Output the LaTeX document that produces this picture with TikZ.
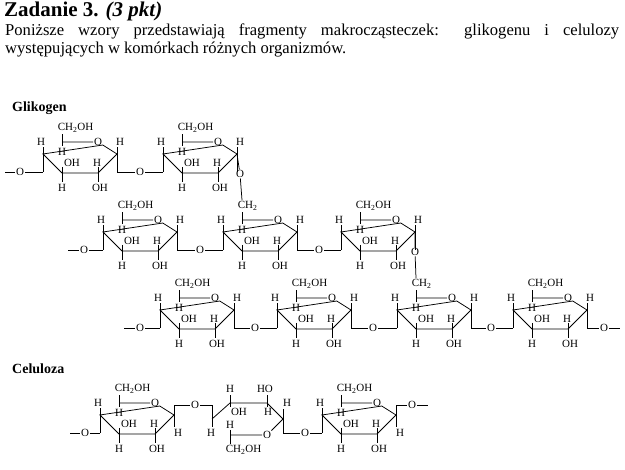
\documentclass[tikz,border=0pt]{standalone}
\usepackage{fontspec}
\setmainfont{Liberation Serif}
\newcommand\chemfont{\fontsize{11}{11}\selectfont}
\tikzset{x=1pt,y=-1pt,
 bond/.style={line width=0.75pt},
 lab/.style={font=\chemfont,inner sep=0.6pt},
 ttl/.style={font=\bfseries\fontsize{14}{14}\selectfont,anchor=west,inner sep=0pt}}
% #1 x, #2 y(top), #3 top label, #4 name, #5 mode (a=alpha, b=beta)
\newcommand\gluc[5]{%
\begin{scope}[shift={(#1,#2)}]
 \node[lab] (#4O) at (55,0) {O};
 \draw[bond] (19,0)--(#4O)--(74,12)--(55,31)--(19,31)--(0,12)--cycle;
 \draw[bond] (19,0)--(19,-8) (19,0)--(19,4);
 \node[lab,anchor=west] (#4t) at (14,-14) {#3};
 \coordinate (#4tt) at (19,-20);
 \node[lab] at (19,9.5) {H};
 \draw[bond] (0,12)--(0,5) (0,12)--(0,30);
 \node[lab] at (-2,0) {H};
 \draw[bond] (19,25)--(19,40); \node[lab] at (29,21) {OH}; \node[lab] at (19,46) {H};
 \draw[bond] (55,25)--(55,40); \node[lab] at (54,20.5) {H}; \node[lab] at (57,46) {OH};
 \coordinate (#4L) at (0,30);
 \coordinate (#4C) at (74,12);
 \if#5a
  \draw[bond] (74,12)--(74,5) (74,12)--(74,30); \node[lab] at (77,0) {H};
  \coordinate (#4R) at (74,30);
 \else
  \draw[bond] (74,12)--(74,2) (74,12)--(74,24); \node[lab] at (78,30) {H};
  \coordinate (#4R) at (74,2);
 \fi
\end{scope}}
\begin{document}
\begin{tikzpicture}
\useasboundingbox (0,0) rectangle (625,470);
\node[anchor=north west,inner sep=0pt,font=\bfseries\fontsize{21}{21}\selectfont] (title) at (4,2) {Zadanie 3. \textit{(3 pkt)}};
\node[anchor=north west,inner sep=0pt,text width=614pt,align=justify,font=\fontsize{16.6}{18}\selectfont] (intro) at (5,24)
 {Poniższe wzory przedstawiają fragmenty makrocząsteczek: glikogenu i celulozy\linebreak występujących w komórkach różnych organizmów.};
\node[ttl] (gl) at (12,108) {Glikogen};
\node[ttl] (ce) at (12,369) {Celuloza};
% Row 1
\gluc{43}{142}{CH\textsubscript{2}OH}{a1}{a}
\gluc{163}{142}{CH\textsubscript{2}OH}{a2}{a}
\coordinate (s1) at (5,172);
\node[lab] (o0) at (20,172) {O};
\node[lab] (o1) at (140,172) {O};
\draw[bond] (s1)--(o0)--(a1L) (a1R)--(o1)--(a2L);
% Row 2
\gluc{103}{220}{CH\textsubscript{2}OH}{b1}{a}
\gluc{223}{220}{CH\textsubscript{2}}{b2}{a}
\gluc{341}{220}{CH\textsubscript{2}OH}{b3}{a}
\node[lab] (ob) at (240,174) {O};
\draw[bond] (a2C)--(ob)--(b2tt);
\coordinate (s2) at (68,250);
\node[lab] (p0) at (84,250) {O};
\node[lab] (p1) at (200,250) {O};
\node[lab] (p2) at (319,250) {O};
\draw[bond] (s2)--(p0)--(b1L) (b1R)--(p1)--(b2L) (b2R)--(p2)--(b3L);
% Row 3
\gluc{160}{298}{CH\textsubscript{2}OH}{c1}{a}
\gluc{277}{298}{CH\textsubscript{2}OH}{c2}{a}
\gluc{397}{298}{CH\textsubscript{2}}{c3}{a}
\gluc{513}{298}{CH\textsubscript{2}OH}{c4}{a}
\node[lab] (oc) at (415,252) {O};
\draw[bond] (b3C)--(oc)--(c3tt);
\coordinate (s3) at (124,328);
\coordinate (e3) at (620,328);
\node[lab] (q0) at (140,328) {O};
\node[lab] (q1) at (255,328) {O};
\node[lab] (q2) at (373,328) {O};
\node[lab] (q3) at (491,328) {O};
\node[lab] (q4) at (604,328) {O};
\draw[bond] (s3)--(q0)--(c1L) (c1R)--(q1)--(c2L) (c2R)--(q2)--(c3L) (c3R)--(q3)--(c4L) (c4R)--(q4)--(e3);
% Celuloza
\gluc{100}{403}{CH\textsubscript{2}OH}{d1}{b}
\gluc{322}{403}{CH\textsubscript{2}OH}{d3}{b}
\begin{scope}[shift={(212,403)}]
 \node[lab] (fO) at (55,32) {O};
 \draw[bond] (0,16)--(18,0)--(55,0)--(71,16)--(fO)--(18,32)--cycle;
 \draw[bond] (18,0)--(18,-8) (18,0)--(18,4);
 \node[lab] at (18,-14) {H}; \node[lab] at (27,9) {OH};
 \draw[bond] (55,0)--(55,-8) (55,0)--(55,4);
 \node[lab] at (53,-14) {HO}; \node[lab] at (56,9) {H};
 \draw[bond] (71,16)--(71,6) (71,16)--(71,30);
 \node[lab] at (75,0) {H};
 \draw[bond] (18,32)--(18,27) (18,32)--(18,41);
 \node[lab] at (18,21.5) {H};
 \node[lab,anchor=west] at (13,47) {CH\textsubscript{2}OH};
 \draw[bond] (0,16)--(0,2) (0,16)--(0,24);
 \node[lab] at (-1,30) {H};
 \coordinate (fL) at (0,2);
 \coordinate (fR) at (71,30);
\end{scope}
\coordinate (s4) at (70,433);
\coordinate (e4) at (428,405);
\node[lab] (r0) at (85,433) {O};
\node[lab] (r1) at (195,405) {O};
\node[lab] (r2) at (305,433) {O};
\node[lab] (r3) at (412,405) {O};
\draw[bond] (s4)--(r0)--(d1L) (d1R)--(r1)--(fL) (fR)--(r2)--(d3L) (d3R)--(r3)--(e4);
\end{tikzpicture}
\end{document}
